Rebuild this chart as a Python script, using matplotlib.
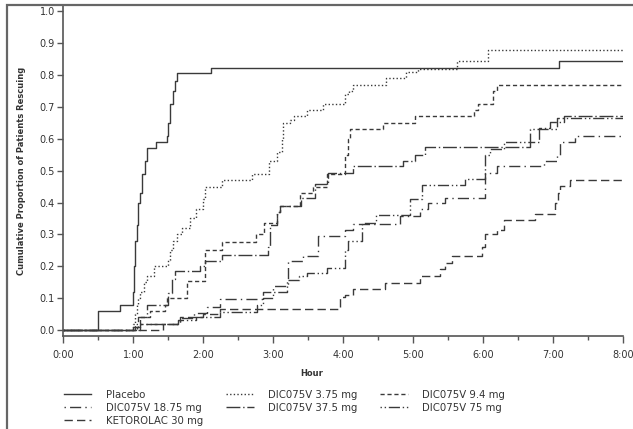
import matplotlib
matplotlib.use("Agg")
import matplotlib.pyplot as plt
from matplotlib.patches import Rectangle
import numpy as np

# Step curves: time (hours) of each rise and the cumulative proportion after it
placebo_t = [0.50, 0.81, 0.99, 1.01, 1.03, 1.05, 1.07, 1.09, 1.13, 1.17, 1.19, 1.33,
             1.48, 1.50, 1.52, 1.56, 1.60, 1.62, 2.11, 7.08]
placebo_p = [0.06, 0.08, 0.12, 0.20, 0.28, 0.33, 0.40, 0.43, 0.49, 0.53, 0.57, 0.59,
             0.61, 0.65, 0.71, 0.75, 0.78, 0.805, 0.823, 0.843]

d375_t = [1.00, 1.03, 1.05, 1.07, 1.10, 1.15, 1.20, 1.30, 1.50, 1.52, 1.57, 1.62,
          1.70, 1.81, 1.90, 1.99, 2.02, 2.26, 2.70, 2.94, 3.05, 3.12, 3.14, 3.24,
          3.29, 3.48, 3.71, 4.02, 4.08, 4.14, 4.61, 4.90, 5.07, 5.62, 6.07]
d375_p = [0.02, 0.05, 0.08, 0.10, 0.12, 0.15, 0.17, 0.20, 0.22, 0.25, 0.28, 0.30,
          0.32, 0.35, 0.38, 0.41, 0.45, 0.47, 0.49, 0.53, 0.56, 0.60, 0.65, 0.66,
          0.67, 0.69, 0.71, 0.74, 0.75, 0.77, 0.79, 0.81, 0.82, 0.845, 0.88]

d94_t = [1.09, 1.24, 1.45, 1.48, 1.76, 2.03, 2.26, 2.75, 2.86, 3.05, 3.10, 3.38,
         3.57, 3.76, 4.03, 4.07, 4.10, 4.57, 5.02, 5.86, 5.92, 6.14, 6.19]
d94_p = [0.04, 0.06, 0.08, 0.10, 0.155, 0.25, 0.275, 0.30, 0.335, 0.37, 0.39, 0.43,
         0.45, 0.49, 0.55, 0.60, 0.63, 0.65, 0.67, 0.69, 0.71, 0.75, 0.77]

d1875_t = [1.00, 1.07, 1.67, 1.86, 2.05, 2.24, 2.85, 3.00, 3.21, 3.43, 3.64, 4.02,
           4.14, 4.81, 5.10, 5.21, 5.45, 6.02, 6.20, 6.86, 7.05, 7.10, 7.31]
d1875_p = [0.01, 0.02, 0.037, 0.052, 0.073, 0.098, 0.12, 0.137, 0.215, 0.233, 0.294, 0.315,
           0.333, 0.357, 0.38, 0.397, 0.415, 0.494, 0.515, 0.53, 0.55, 0.59, 0.61]

d375b_t = [1.02, 1.07, 1.19, 1.50, 1.55, 1.60, 1.95, 2.02, 2.26, 2.92, 2.95, 3.05,
           3.10, 3.40, 3.60, 3.78, 4.14, 4.85, 5.03, 5.17, 6.67, 6.80, 6.95, 7.15]
d375b_p = [0.02, 0.04, 0.078, 0.116, 0.16, 0.184, 0.20, 0.218, 0.236, 0.26, 0.33, 0.37,
           0.39, 0.415, 0.457, 0.494, 0.515, 0.53, 0.55, 0.573, 0.59, 0.633, 0.652, 0.672]

d75_t = [1.05, 1.10, 1.64, 1.90, 2.24, 2.76, 2.85, 3.00, 3.20, 3.36, 3.48, 3.76,
         4.02, 4.07, 4.26, 4.47, 4.95, 5.12, 5.74, 6.03, 6.10, 6.29, 6.67, 7.05]
d75_p = [0.01, 0.02, 0.03, 0.04, 0.058, 0.08, 0.10, 0.12, 0.158, 0.168, 0.179, 0.195,
         0.25, 0.279, 0.337, 0.36, 0.41, 0.454, 0.473, 0.55, 0.567, 0.59, 0.63, 0.665]

keto_t = [1.43, 1.67, 2.00, 2.24, 3.95, 4.03, 4.14, 4.60, 5.10, 5.38, 5.45, 5.55,
          5.98, 6.03, 6.20, 6.29, 6.74, 7.03, 7.06, 7.10, 7.24]
keto_p = [0.02, 0.04, 0.05, 0.065, 0.105, 0.11, 0.128, 0.149, 0.17, 0.19, 0.21, 0.233,
          0.26, 0.30, 0.315, 0.344, 0.365, 0.40, 0.43, 0.452, 0.471]

x_ticks = [0, 1, 2, 3, 4, 5, 6, 7, 8]
x_tick_labels = ["0:00", "1:00", "2:00", "3:00", "4:00", "5:00", "6:00", "7:00", "8:00"]

line_col = "#3a3a3a"
axis_col = "#555555"

fig = plt.figure(figsize=(6.33, 4.29), dpi=100)
fig.patch.set_facecolor("white")
ax = fig.add_axes([63.3 / 633, 1 - 336 / 429, 560 / 633, 330 / 429])

# figure frame (cropped on the right and bottom in the original)
fig.patches.append(Rectangle((6.5 / 633, -0.2), 2.0, 1.2 - 5 / 429,
                             transform=fig.transFigure, fill=False,
                             edgecolor="#666666", lw=1.6, clip_on=False))


def step(t, p, label, ls):
    tt = np.r_[0.0, t, 8.0]
    pp = np.r_[0.0, p, p[-1]]
    line, = ax.plot(tt, pp, drawstyle="steps-post", color=line_col, lw=1.0,
                    linestyle=ls, label=label)
    return line


h_plac = step(placebo_t, placebo_p, "Placebo", "-")
h_375 = step(d375_t, d375_p, "DIC075V 3.75 mg", (0, (1, 1.6)))
h_94 = step(d94_t, d94_p, "DIC075V 9.4 mg", (0, (3, 2)))
h_1875 = step(d1875_t, d1875_p, "DIC075V 18.75 mg", (0, (1, 3, 8, 3)))
h_375b = step(d375b_t, d375b_p, "DIC075V 37.5 mg", (0, (10, 2, 1, 2)))
h_75 = step(d75_t, d75_p, "DIC075V 75 mg", (0, (1, 2, 1, 2, 8, 2)))
h_keto = step(keto_t, keto_p, "KETOROLAC 30 mg", (0, (6, 3)))

ax.set_xlim(0, 8)
ax.set_ylim(-0.0188, 1.0166)
ax.set_xticks(x_ticks)
ax.set_xticklabels(x_tick_labels)
ax.set_xticks(np.arange(0.5, 8, 1.0), minor=True)
ax.set_yticks(np.arange(0, 1.01, 0.1))
ax.set_yticklabels([f"{v:.1f}" for v in np.arange(0, 1.01, 0.1)])

for s in ["top", "right"]:
    ax.spines[s].set_visible(False)
for s in ["left", "bottom"]:
    ax.spines[s].set_color(axis_col)
    ax.spines[s].set_linewidth(1.2)

ax.tick_params(axis="both", which="major", direction="out", length=4, width=1,
               color=axis_col, labelsize=7, labelcolor="#333333")
ax.tick_params(axis="x", which="major", length=5, pad=5)
ax.tick_params(axis="x", which="minor", direction="out", length=3, width=1, color=axis_col)
ax.tick_params(axis="y", pad=2)

fig.text(22 / 633, 1 - 171 / 429, "Cumulative Proportion of Patients Rescuing",
         rotation=90, ha="center", va="center", fontsize=6, fontweight="bold",
         color="#333333")
fig.text(312 / 633, 1 - 373 / 429, "Hour", ha="center", va="center",
         fontsize=6, fontweight="bold", color="#333333")

handles = [h_plac, h_1875, h_keto, h_375, h_375b, h_94, h_75]
fig.legend(handles=handles, labels=[h.get_label() for h in handles],
           loc="upper left", bbox_to_anchor=(64 / 633, 1 - 389.5 / 429),
           ncol=3, frameon=False, fontsize=7.3, handlelength=2.7,
           handletextpad=1.4, columnspacing=2.3, labelspacing=0.3,
           borderaxespad=0, borderpad=0, labelcolor="#333333")

fig.savefig("out.png", dpi=100, facecolor="white")
